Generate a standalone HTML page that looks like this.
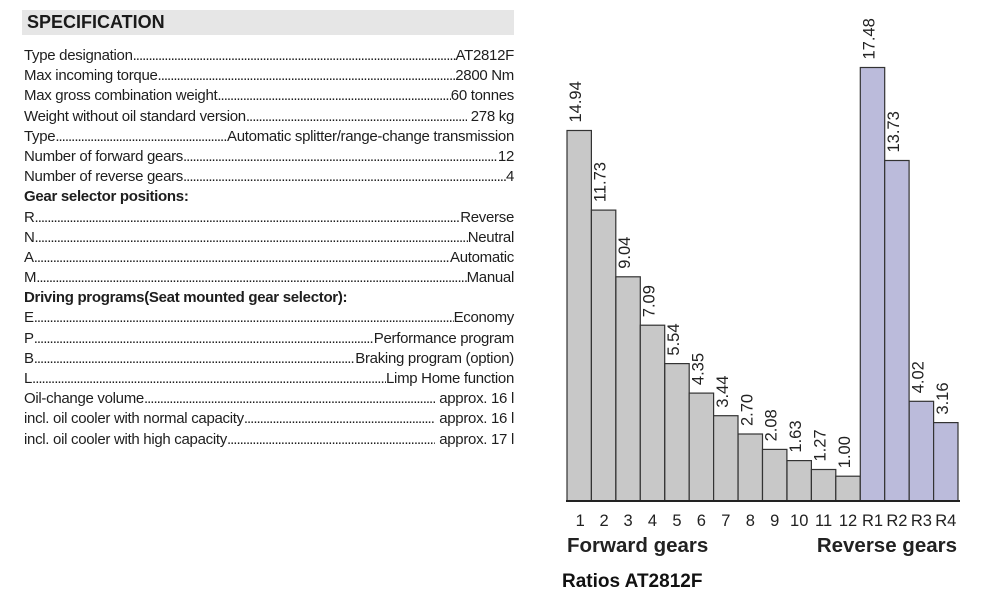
<!DOCTYPE html>
<html><head><meta charset="utf-8"><style>
body{margin:0;width:991px;height:607px;background:#fff;font-family:"Liberation Sans",sans-serif;color:#1e1e1e;position:relative;overflow:hidden}
.hdr{position:absolute;left:22px;top:10px;width:492px;height:25px;background:#e6e6e6}
.hdr span{position:absolute;left:5px;top:2px;font-weight:bold;font-size:18px;color:#1a1a1a}
.rows{position:absolute;left:24px;top:46px;width:490px}
.r{display:flex;height:20.2px;line-height:20.2px;font-size:15px;white-space:nowrap;letter-spacing:-0.3px}
.r .d{flex:1;overflow:hidden;letter-spacing:-1px}
.r .d:after{content:"..............................................................................................................................................................................................................."}
.b{font-weight:bold}
</style></head><body>
<div class="hdr"><span>SPECIFICATION</span></div>
<div class="rows">
<div class="r"><span>Type designation</span><span class="d"></span><span>AT2812F</span></div>
<div class="r"><span>Max incoming torque</span><span class="d"></span><span>2800 Nm</span></div>
<div class="r"><span>Max gross combination weight</span><span class="d"></span><span>60 tonnes</span></div>
<div class="r"><span>Weight without oil standard version</span><span class="d"></span><span>&nbsp;278 kg</span></div>
<div class="r"><span>Type</span><span class="d"></span><span>Automatic splitter/range-change transmission</span></div>
<div class="r"><span>Number of forward gears</span><span class="d"></span><span>12</span></div>
<div class="r"><span>Number of reverse gears</span><span class="d"></span><span>4</span></div>
<div class="r b"><span>Gear selector positions:</span></div>
<div class="r"><span>R</span><span class="d"></span><span>Reverse</span></div>
<div class="r"><span>N</span><span class="d"></span><span>Neutral</span></div>
<div class="r"><span>A</span><span class="d"></span><span>Automatic</span></div>
<div class="r"><span>M</span><span class="d"></span><span>Manual</span></div>
<div class="r b"><span>Driving programs(Seat mounted gear selector):</span></div>
<div class="r"><span>E</span><span class="d"></span><span>Economy</span></div>
<div class="r"><span>P</span><span class="d"></span><span>Performance program</span></div>
<div class="r"><span>B</span><span class="d"></span><span>Braking program (option)</span></div>
<div class="r"><span>L</span><span class="d"></span><span>Limp Home function</span></div>
<div class="r"><span>Oil-change volume</span><span class="d"></span><span>&nbsp;approx. 16 l</span></div>
<div class="r"><span>incl. oil cooler with normal capacity</span><span class="d"></span><span>&nbsp;approx. 16 l</span></div>
<div class="r"><span>incl. oil cooler with high capacity</span><span class="d"></span><span>&nbsp;approx. 17 l</span></div>
</div>
<svg width="991" height="607" style="position:absolute;left:0;top:0" font-family="Liberation Sans, sans-serif">
<g stroke="#333" stroke-width="1.2" fill="#c8c8c8">
<rect x="567.0" y="130.5" width="24.4" height="370.5"/>
<rect x="591.4" y="210.1" width="24.4" height="290.9"/>
<rect x="615.9" y="276.8" width="24.4" height="224.2"/>
<rect x="640.3" y="325.2" width="24.4" height="175.8"/>
<rect x="664.8" y="363.6" width="24.4" height="137.4"/>
<rect x="689.2" y="393.1" width="24.4" height="107.9"/>
<rect x="713.6" y="415.7" width="24.4" height="85.3"/>
<rect x="738.1" y="434.0" width="24.4" height="67.0"/>
<rect x="762.5" y="449.4" width="24.4" height="51.6"/>
<rect x="787.0" y="460.6" width="24.4" height="40.4"/>
<rect x="811.4" y="469.5" width="24.4" height="31.5"/>
<rect x="835.8" y="476.2" width="24.4" height="24.8"/>
<rect x="860.3" y="67.5" width="24.4" height="433.5" fill="#bbbbdb"/>
<rect x="884.7" y="160.5" width="24.4" height="340.5" fill="#bbbbdb"/>
<rect x="909.2" y="401.3" width="24.4" height="99.7" fill="#bbbbdb"/>
<rect x="933.6" y="422.6" width="24.4" height="78.4" fill="#bbbbdb"/>
</g>
<g font-size="16.5" fill="#222">
<text transform="translate(581.2,122.5) rotate(-90)">14.94</text>
<text transform="translate(605.6,202.1) rotate(-90)">11.73</text>
<text transform="translate(630.1,268.8) rotate(-90)">9.04</text>
<text transform="translate(654.5,317.2) rotate(-90)">7.09</text>
<text transform="translate(679.0,355.6) rotate(-90)">5.54</text>
<text transform="translate(703.4,385.1) rotate(-90)">4.35</text>
<text transform="translate(727.8,407.7) rotate(-90)">3.44</text>
<text transform="translate(752.3,426.0) rotate(-90)">2.70</text>
<text transform="translate(776.7,441.4) rotate(-90)">2.08</text>
<text transform="translate(801.2,452.6) rotate(-90)">1.63</text>
<text transform="translate(825.6,461.5) rotate(-90)">1.27</text>
<text transform="translate(850.0,468.2) rotate(-90)">1.00</text>
<text transform="translate(874.5,59.5) rotate(-90)">17.48</text>
<text transform="translate(898.9,152.5) rotate(-90)">13.73</text>
<text transform="translate(923.4,393.3) rotate(-90)">4.02</text>
<text transform="translate(947.8,414.6) rotate(-90)">3.16</text>
</g>
<g font-size="16.5" fill="#222" text-anchor="middle">
<text x="580.2" y="526">1</text><text x="604.1" y="526">2</text><text x="628.1" y="526">3</text><text x="652.5" y="526">4</text>
<text x="677.0" y="526">5</text><text x="701.4" y="526">6</text><text x="725.8" y="526">7</text><text x="750.3" y="526">8</text>
<text x="774.7" y="526">9</text><text x="799.2" y="526">10</text><text x="823.6" y="526">11</text><text x="848.0" y="526">12</text>
<text x="872.5" y="526">R1</text><text x="896.9" y="526">R2</text><text x="921.4" y="526">R3</text><text x="945.8" y="526">R4</text>
</g>
<line x1="566" y1="501" x2="960" y2="501" stroke="#222" stroke-width="2"/>
<text x="567" y="552" font-size="20.5" font-weight="bold" fill="#222">Forward gears</text>
<text x="957" y="552" font-size="20.5" font-weight="bold" fill="#222" text-anchor="end">Reverse gears</text>
<text x="562" y="587" font-size="19" font-weight="bold" fill="#111">Ratios AT2812F</text>
</svg>
</body></html>
